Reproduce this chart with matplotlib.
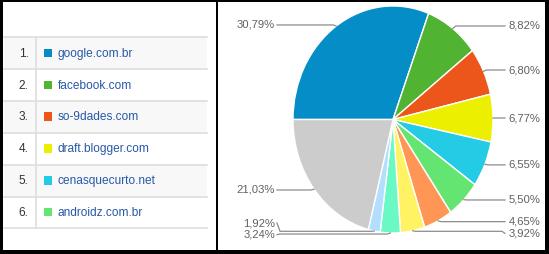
import numpy as np
import matplotlib
matplotlib.use("Agg")
import matplotlib.pyplot as plt
from matplotlib.patches import Rectangle

plt.rcParams['font.family'] = ['Liberation Sans', 'DejaVu Sans']

# data
sites = ["google.com.br", "facebook.com", "so-9dades.com",
         "draft.blogger.com", "cenasquecurto.net", "androidz.com.br"]
shares = [30.79, 8.82, 6.80, 6.77, 6.55, 5.50, 4.65, 3.92, 3.24, 1.92, 21.03]
share_labels = ["30,79%", "8,82%", "6,80%", "6,77%", "6,55%", "5,50%",
                "4,65%", "3,92%", "3,24%", "1,92%", "21,03%"]

colors = ["#058DC7", "#50B432", "#ED561B", "#EDEF00", "#24CBE5", "#64E572",
          "#FF9655", "#FFF263", "#6AF9C4", "#B2DEFF", "#CCCCCC"]

# label layout (pie data units): side, text y, connector y
lab_side = [-1, 1, 1, 1, 1, 1, 1, 1, -1, -1, -1]
lab_y = [0.833, 0.824, 0.436, 0.013, -0.40, -0.709, -0.90, -1.004, -1.015, -0.912, -0.621]
line_y = [0.833, 0.824, 0.436, 0.013, -0.40, -0.709, -0.90, -0.985, -1.009, -0.985, -0.621]

W, H = 549, 254
fig = plt.figure(figsize=(W / 100, H / 100), dpi=100)
fig.patch.set_facecolor("white")

# background axes in pixel coordinates
bg = fig.add_axes([0, 0, 1, 1])
bg.set_xlim(0, W)
bg.set_ylim(H, 0)
bg.axis("off")

# table in left panel
row_top = 37.3
row_h = 31.85
for i, name in enumerate(sites):
    y0 = row_top + i * row_h
    fc = "#f8f8f8" if i % 2 == 0 else "white"
    bg.add_patch(Rectangle((4, y0), 203, row_h, facecolor=fc, edgecolor="none", zorder=1))
    bg.plot([4, 207], [y0, y0], color="#e0e0e0", lw=1.3, zorder=2)
    yc = y0 + row_h / 2
    bg.text(28.5, yc + 0.5, f"{i + 1}.", ha="right", va="center", fontsize=8.6,
            color="#333333", zorder=3)
    bg.add_patch(Rectangle((43.5, yc - 4.5), 8.5, 8.5, facecolor=colors[i],
                           edgecolor="none", zorder=3))
    bg.text(58, yc + 0.5, name, ha="left", va="center", fontsize=8.6,
            color="#2858a8", zorder=3)
y_end = row_top + len(sites) * row_h
bg.plot([4, 207], [y_end, y_end], color="#e0e0e0", lw=1.3, zorder=2)
bg.plot([36, 36], [row_top, y_end], color="#e0e0e0", lw=1.3, zorder=2)

# black frame and divider
for (x, y, w, h) in [(0, 0, W, 2), (0, 0, 3, H), (0, 250, W, 4),
                     (545, 0, 4, H), (216, 0, 2, H)]:
    bg.add_patch(Rectangle((x, y), w, h, facecolor="black", edgecolor="none", zorder=5))

# pie (slightly squeezed horizontally like the reference)
cx, cy, rx, ry = 393, 119.5, 100, 113.5
ax = fig.add_axes([(cx - rx) / W, (H - cy - ry) / H, 2 * rx / W, 2 * ry / H])
wedges, _ = ax.pie(shares, colors=colors, startangle=180, counterclock=False,
                   wedgeprops=dict(edgecolor="white", linewidth=1.0))
ax.set_aspect("auto")
ax.set_xlim(-1, 1)
ax.set_ylim(-1, 1)
ax.axis("off")

cum = np.cumsum([0] + shares[:-1])
for i, v in enumerate(shares):
    ang = np.deg2rad(180 - 360 * (cum[i] + v / 2) / 100)
    px, py = np.cos(ang), np.sin(ang)
    s = lab_side[i]
    tx = 1.153 if s > 0 else -1.18
    lx = 1.12 if s > 0 else -1.16
    xs = [px, px + s * 0.03, lx - s * 0.03, lx]
    ys = [py, line_y[i], line_y[i], lab_y[i]]
    ax.plot(xs, ys, color="#8c8c8c", lw=0.9, clip_on=False, solid_joinstyle="round")
    ax.text(tx, lab_y[i], share_labels[i], ha="left" if s > 0 else "right",
            va="center", fontsize=8.1, color="#606060", clip_on=False)

plt.savefig("out.png", dpi=100)
